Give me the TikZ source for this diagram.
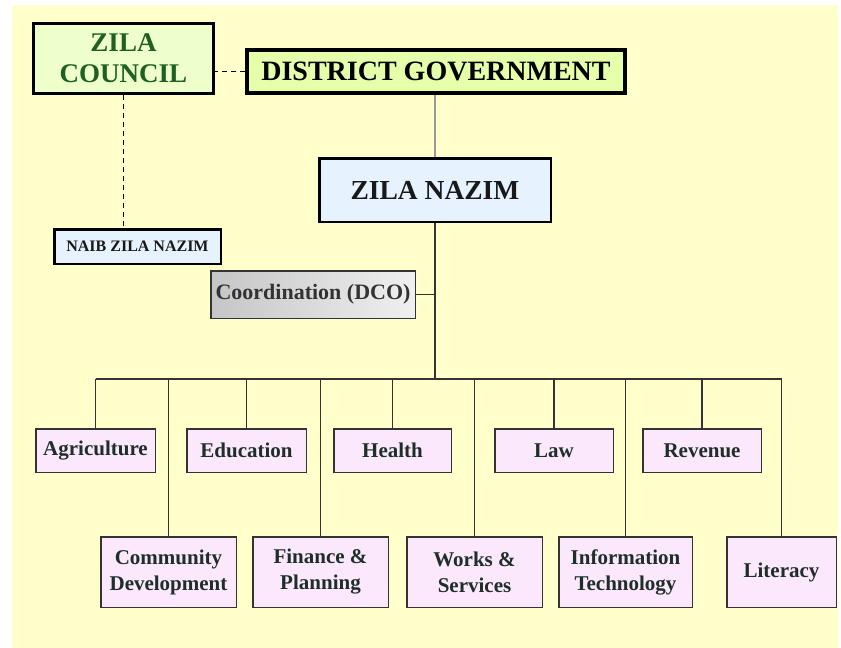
\documentclass[tikz,border=0pt]{standalone}
\usepackage{fontspec}
\newfontfamily\libserif{Liberation Serif}
\usetikzlibrary{shadings}
\definecolor{bgyellow}{HTML}{FFFFCC}
\definecolor{councilfill}{HTML}{EEFFCC}
\definecolor{dgfill}{HTML}{E6FFAA}
\definecolor{bluefill}{HTML}{E6F3FF}
\definecolor{deptfill}{HTML}{FCE8FC}
\definecolor{deptline}{HTML}{333333}
\definecolor{councilgreen}{HTML}{1F5F1F}
\definecolor{depttext}{HTML}{1E2E28}
\definecolor{conngray}{HTML}{333333}
\definecolor{lightconn}{HTML}{9A9A9A}
\begin{document}
\begin{tikzpicture}[x=1pt,y=-1pt,
  box/.style={draw, inner sep=0pt, align=center},
  dept/.style={box, draw=deptline, line width=1.5pt, fill=deptfill, text=depttext,
     font=\libserif\bfseries\fontsize{21}{26}\selectfont},
  toprow/.style={dept, minimum height=43.5pt},
  botrow/.style={dept, minimum height=70.5pt},
  conn/.style={draw=conngray, line width=1.5pt},
  dashconn/.style={draw=black, line width=1.8pt, dash pattern=on 5pt off 4pt}
]
\useasboundingbox (0,0) rectangle (841,648);
\fill[white] (0,0) rectangle (841,648);
\fill[bgyellow] (12,5) rectangle (838,648);

\node[box, line width=3pt, fill=councilfill, text=councilgreen, minimum width=180pt, minimum height=70pt,
  font=\libserif\bfseries\fontsize{27}{31}\selectfont] (council) at (123.5,58.5) {ZILA\\COUNCIL};
\node[box, line width=4.5pt, fill=dgfill, text=black, minimum width=378pt, minimum height=43pt,
  font=\libserif\bfseries\fontsize{28}{32}\selectfont] (dg) at (436,71.5) {DISTRICT GOVERNMENT};
\node[box, line width=2.5pt, fill=bluefill, text=black!90, minimum width=166.5pt, minimum height=34.5pt,
  font=\libserif\bfseries\fontsize{16}{19}\selectfont] (naib) at (137.5,246.5) {NAIB ZILA NAZIM};
\node[box, line width=2.5pt, fill=bluefill, text=black!90, minimum width=231.5pt, minimum height=63.5pt,
  font=\libserif\bfseries\fontsize{27.5}{31}\selectfont] (nazim) at (435,190) {ZILA NAZIM};
\node[box, line width=1.5pt, draw=deptline, left color=gray!45, right color=gray!12, text=black!80,
  minimum width=204.5pt, minimum height=47.5pt,
  font=\libserif\bfseries\fontsize{22}{26}\selectfont] (dco) at (313,294.5) {Coordination (DCO)};

\node[toprow, minimum width=119.5pt] (agri) at (95.5,450.5) {Agriculture};
\node[toprow, minimum width=119.5pt] (edu) at (246.5,450.5) {Education};
\node[toprow, minimum width=117.5pt] (health) at (392.5,450.5) {Health};
\node[toprow, minimum width=118.5pt] (law) at (554,450.5) {Law};
\node[toprow, minimum width=118.5pt] (rev) at (702,450.5) {Revenue};

\node[botrow, minimum width=135.5pt] (cd) at (168.5,572) {Community\\Development};
\node[botrow, minimum width=135.5pt] (fp) at (320.5,572) {Finance \&\\Planning};
\node[botrow, minimum width=135.5pt] (ws) at (474.5,572) {Works \&\\Services};
\node[botrow, minimum width=133.5pt] (it) at (625.5,572) {Information\\Technology};
\node[botrow, minimum width=109.5pt] (lit) at (781.5,572) {Literacy};

\coordinate (busL) at (95.5,379);
\coordinate (busR) at (781.5,379);

\draw[dashconn] (dg.west) -- (dg.west -| council.east);
\draw[dashconn] (council.south) -- (council.south |- naib.north);
\draw[draw=lightconn, line width=2pt] (nazim.north) -- (nazim.north |- dg.south);
\draw[conn] (nazim.south) -- (nazim.south |- busL);
\draw[conn] (dco.east) -- (dco.east -| nazim.south);
\draw[conn] (busL) -- (busR);
\foreach \n in {agri,edu,health,law,rev,cd,fp,ws,it,lit}
  \draw[conn] (\n.north) -- (\n.north |- busL);
\end{tikzpicture}
\end{document}
